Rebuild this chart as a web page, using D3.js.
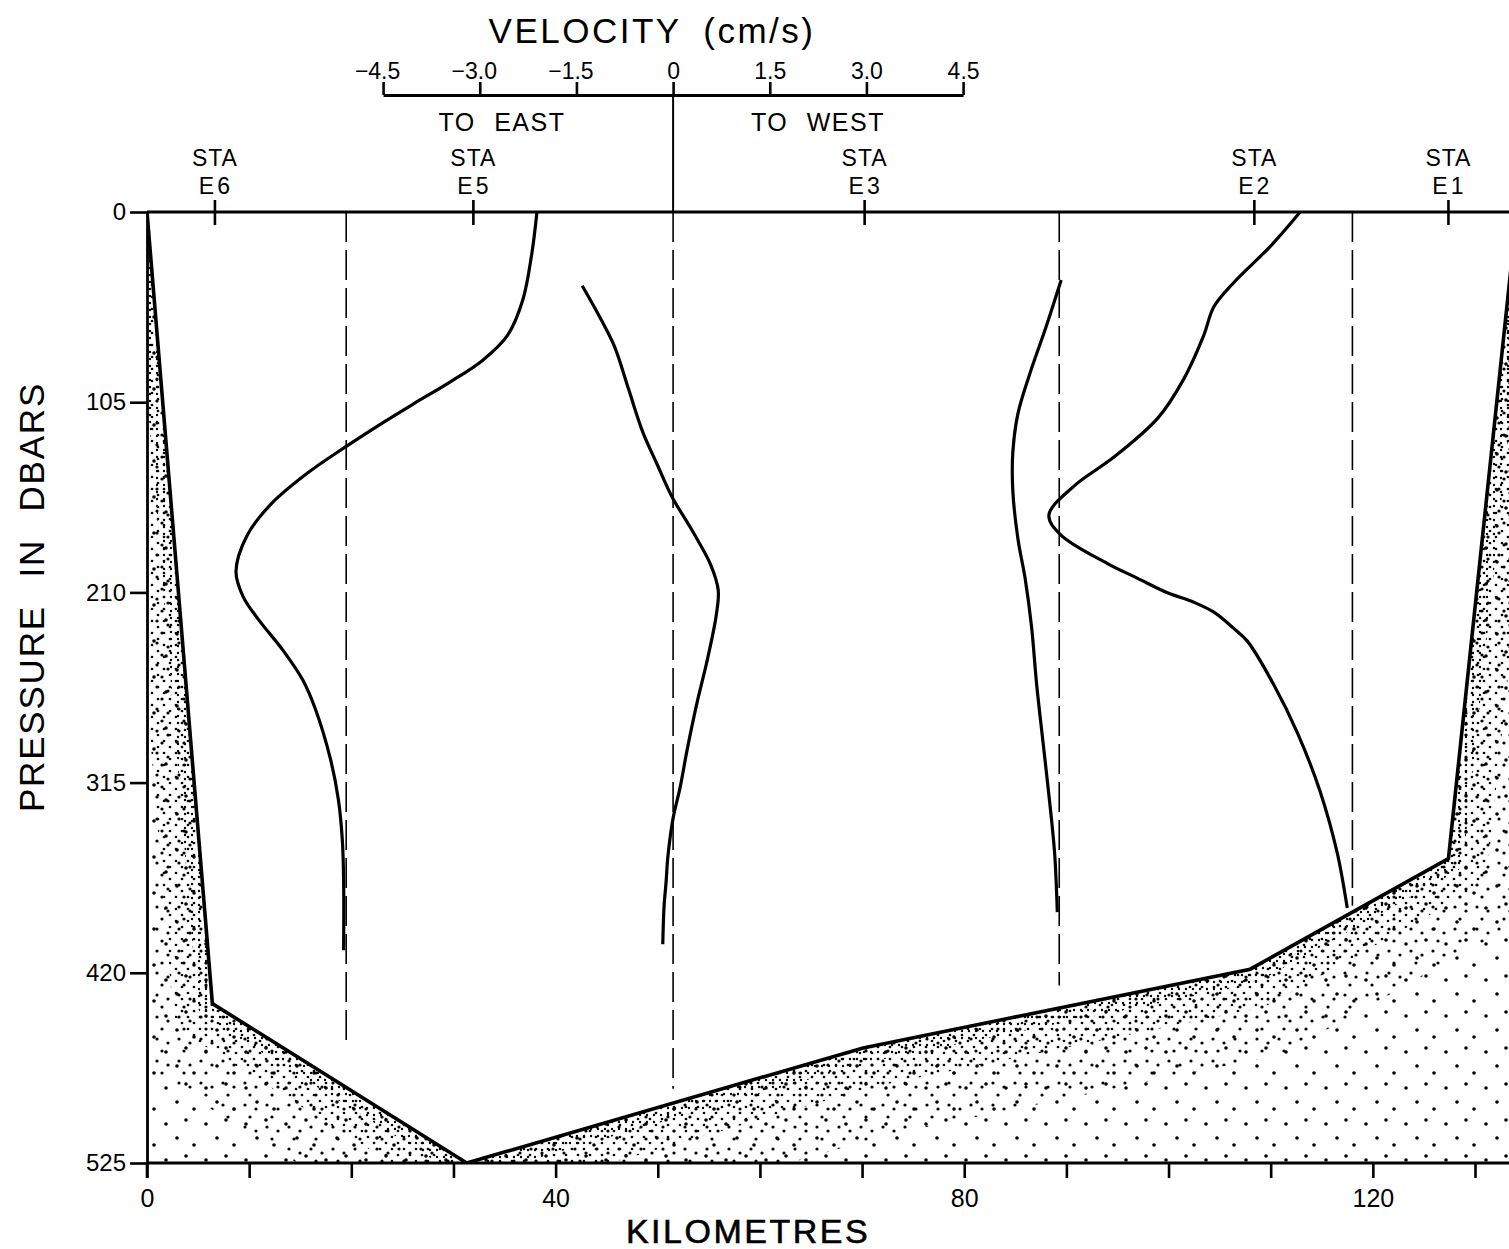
<!DOCTYPE html>
<html><head><meta charset="utf-8">
<script src="https://cdn.jsdelivr.net/npm/d3@7"></script>
<style>
html,body{margin:0;padding:0;background:#fff;}
svg text{font-family:"Liberation Sans",Arial,Helvetica,sans-serif;fill:#000;}
</style></head><body>
<svg id="chart" width="1509" height="1249"></svg>
<script>
// ---------------- data ----------------
const pressureTicks = [0, 105, 210, 315, 420, 525];
const kmTicks = [0, 10, 20, 30, 40, 50, 60, 70, 80, 90, 100, 110, 120, 130];
const kmLabels = [0, 40, 80, 120];
const velocityTicks = [-4.5, -3.0, -1.5, 0, 1.5, 3.0, 4.5];
const velocityTickLabels = ["\u22124.5", "\u22123.0", "\u22121.5", "0", "1.5", "3.0", "4.5"];

const stations = ["E6", "E5", "E3", "E2", "E1"];
const stationKm = [6.65, 31.95, 70.25, 108.4, 127.4];

// bottom topography (km, dbar)
const bottomKm = [0, 6.4, 31.3, 70.1, 108.0, 127.4, 134.1];
const bottomDbar = [0, 437, 525, 461.5, 418, 357, 0];

// velocity profiles between station pairs: reference (zero) line and profiles
const pairNames = ["E6-E5", "E5-E3", "E3-E2", "E2-E1"];
const pairRefKm = [19.5, 51.5, 89.3, 118.0];
const pairRefEndDbar = [460, 484, 427, 383];

const pA = [0, 23, 48.6, 68.3, 82.1, 93.9, 105.8, 117.6, 129.4, 144.1, 161, 178.7, 198.5, 212.3, 225, 242, 258, 273.3, 302.6, 324.7, 346.8, 368.9, 407.5];
const vA = [2.96, 2.88, 2.74, 2.50, 2.11, 1.61, 1.05, 0.51, 0.0, -0.60, -1.16, -1.54, -1.71, -1.60, -1.36, -0.98, -0.68, -0.49, -0.24, -0.12, -0.06, -0.04, -0.04];

const pB = [40.7, 58.5, 74.2, 97.9, 121.5, 139.1, 157, 176.7, 194.5, 208.7, 222.5, 247.4, 271.1, 296.5, 317.5, 334.6, 355.6, 370.5, 383.2, 404.2];
const vB = [-1.41, -1.13, -0.91, -0.69, -0.47, -0.25, -0.02, 0.31, 0.58, 0.70, 0.67, 0.53, 0.37, 0.22, 0.11, 0.0, -0.08, -0.11, -0.14, -0.16];

const pC = [37.5, 62.9, 89.7, 111.2, 132.5, 154, 180.7, 202.1, 228.9, 261, 293.2, 325.2, 354.7, 386.5];
const vC = [0.03, -0.20, -0.46, -0.64, -0.72, -0.72, -0.64, -0.53, -0.43, -0.35, -0.25, -0.15, -0.07, -0.03];

const pD = [0, 18.8, 38.9, 52.3, 68.4, 92.4, 113.8, 135.3, 151.3, 167.3, 178.1, 194.1, 202.1, 210.2, 215.3, 220.9, 229.6, 236.9, 261, 287.8, 320, 354.7, 384.2];
const vD = [-0.81, -1.27, -1.84, -2.15, -2.31, -2.62, -3.02, -3.70, -4.32, -4.71, -4.53, -3.80, -3.34, -2.87, -2.47, -2.15, -1.85, -1.63, -1.22, -0.85, -0.50, -0.23, -0.08];

const profilesP = [pA, pB, pC, pD];
const profilesV = [vA, vB, vC, vD];

// ---------------- scales ----------------
const svg = d3.select("#chart");
const x = d3.scaleLinear().domain([0, 130]).range([147, 1475]);
const y = d3.scaleLinear().domain([0, 525]).range([212, 1163]);
const VEL_HALF = 290;
const velScale = ref => d3.scaleLinear().domain([-4.5, 4.5]).range([x(ref) - VEL_HALF, x(ref) + VEL_HALF]);

// ---------------- stipple patterns ----------------
const defs = svg.append("defs");
function pattern(id, w, h, dots, r) {
  const p = defs.append("pattern").attr("id", id).attr("patternUnits", "userSpaceOnUse")
    .attr("width", w).attr("height", h);
  dots.forEach(d => p.append("circle").attr("cx", d[0]).attr("cy", d[1]).attr("r", r).attr("fill", "#000"));
}
pattern("st1", 40, 36, [[6, 8], [26, 4], [17, 22], [34, 29]], 1.8);
pattern("st2", 22, 22, [[3, 5], [14, 9], [8, 17]], 1.6);
pattern("st3", 12, 12, [[2, 3], [8, 9]], 1.35);
pattern("st4", 7, 7, [[3, 2]], 1.2);

const bottomPts = bottomKm.map((k, i) => [x(k), y(bottomDbar[i])]);
const polyPts = bottomPts.concat([[x(140), y(0)], [x(140), y(525)], [x(0), y(525)]]);
defs.append("clipPath").attr("id", "seaBed").append("polygon")
  .attr("points", polyPts.map(p => p.join(",")).join(" "));
defs.append("clipPath").attr("id", "plotArea").append("rect")
  .attr("x", x(0)).attr("y", y(0)).attr("width", 1509 - x(0)).attr("height", y(525) - y(0));

const stip = svg.append("g").attr("clip-path", "url(#seaBed)");
stip.append("polygon").attr("points", polyPts.map(p => p.join(",")).join(" ")).attr("fill", "url(#st1)");
const lineGen = d3.line();
[[180, "st2"], [80, "st3"], [30, "st4"]].forEach(([w, pid]) => {
  stip.append("path").attr("d", lineGen(bottomPts)).attr("fill", "none")
    .attr("stroke", `url(#${pid})`).attr("stroke-width", w).attr("stroke-linejoin", "round");
});

// bottom boundary line
svg.append("g").attr("clip-path", "url(#plotArea)").append("path")
  .attr("d", lineGen(bottomPts)).attr("fill", "none").attr("stroke", "#000")
  .attr("stroke-width", 3.6).attr("stroke-linejoin", "miter");

// ---------------- axes ----------------
const axisStyle = g => {
  g.selectAll("path.domain").attr("stroke", "#000").attr("stroke-width", 2.8);
  g.selectAll(".tick line").attr("stroke", "#000").attr("stroke-width", 2.6);
  g.attr("font-family", null).attr("font-size", null);
};

// left axis
const gl = svg.append("g").attr("transform", `translate(${x(0)},0)`)
  .call(d3.axisLeft(y).tickValues(pressureTicks).tickSize(17).tickSizeOuter(0).tickPadding(4).tickFormat(d3.format("d")));
axisStyle(gl);
gl.selectAll("text").style("font-size", "24px");

// bottom axis
const gb = svg.append("g").attr("transform", `translate(0,${y(525)})`)
  .call(d3.axisBottom(x).tickValues(kmTicks).tickSize(15).tickSizeOuter(0).tickPadding(11)
    .tickFormat(d => kmLabels.includes(d) ? String(d) : ""));
axisStyle(gb);
gb.select("path.domain").remove();
gb.selectAll("text").style("font-size", "25px");
svg.append("line").attr("x1", x(0)).attr("x2", 1509).attr("y1", y(525)).attr("y2", y(525))
  .attr("stroke", "#000").attr("stroke-width", 3.2);
svg.append("line").attr("x1", x(0)).attr("x2", x(0)).attr("y1", y(525)).attr("y2", y(525) + 15)
  .attr("stroke", "#000").attr("stroke-width", 2.6);

// surface line (0 dbar)
svg.append("line").attr("x1", x(0)).attr("x2", 1509).attr("y1", y(0)).attr("y2", y(0))
  .attr("stroke", "#000").attr("stroke-width", 3.2);

// station ticks and labels
const gs = svg.append("g");
stations.forEach((s, i) => {
  const sx = x(stationKm[i]);
  gs.append("line").attr("x1", sx).attr("x2", sx).attr("y1", y(0) - 12).attr("y2", y(0) + 13)
    .attr("stroke", "#000").attr("stroke-width", 2.6);
  gs.append("text").attr("x", sx).attr("y", 166).attr("text-anchor", "middle")
    .style("font-size", "23px").style("letter-spacing", "1px").text("STA");
  gs.append("text").attr("x", sx + 1).attr("y", 194).attr("text-anchor", "middle")
    .style("font-size", "23px").style("letter-spacing", "3px").text(s);
});

// velocity axis (top), centred on the E5-E3 reference line
const vTop = velScale(pairRefKm[1]);
const gv = svg.append("g").attr("transform", "translate(0,95)")
  .call(d3.axisTop(vTop).tickValues(velocityTicks).tickSize(13).tickSizeOuter(0).tickPadding(3)
    .tickFormat((d, i) => velocityTickLabels[i]));
axisStyle(gv);
gv.selectAll("text").style("font-size", "23px")
  .attr("dx", (d, i) => velocityTickLabels[i].startsWith("\u2212") ? -6 : 0);
svg.append("line").attr("x1", vTop(0)).attr("x2", vTop(0)).attr("y1", 95).attr("y2", y(0))
  .attr("stroke", "#000").attr("stroke-width", 2);

svg.append("text").attr("x", 652).attr("y", 43).attr("text-anchor", "middle")
  .style("font-size", "35px").style("letter-spacing", "2.5px").style("word-spacing", "10px")
  .text("VELOCITY (cm/s)");
svg.append("text").attr("x", 502).attr("y", 131).attr("text-anchor", "middle")
  .style("font-size", "25px").style("letter-spacing", "1.5px").style("word-spacing", "10px").text("TO EAST");
svg.append("text").attr("x", 818).attr("y", 131).attr("text-anchor", "middle")
  .style("font-size", "25px").style("letter-spacing", "1.5px").style("word-spacing", "10px").text("TO WEST");

// axis titles
svg.append("text").attr("transform", "translate(44,597) rotate(-90)").attr("text-anchor", "middle")
  .style("font-size", "35px").style("letter-spacing", "1.8px").style("word-spacing", "16px")
  .text("PRESSURE IN DBARS");
svg.append("text").attr("x", 748).attr("y", 1243).attr("text-anchor", "middle")
  .style("font-size", "34px").style("letter-spacing", "2.5px").style("stroke", "#000").style("stroke-width", "0.6px")
  .text("KILOMETRES");

// ---------------- reference lines and velocity profiles ----------------
const gp = svg.append("g");
pairRefKm.forEach((ref, i) => {
  gp.append("line").attr("x1", x(ref)).attr("x2", x(ref)).attr("y1", y(0)).attr("y2", y(pairRefEndDbar[i]))
    .attr("stroke", "#000").attr("stroke-width", 1.6).attr("stroke-dasharray", "30,8");
  const vs = velScale(ref);
  const pts = profilesP[i].map((p, j) => ({ p: p, v: profilesV[i][j] }));
  gp.append("path").datum(pts)
    .attr("d", d3.line().x(d => vs(d.v)).y(d => y(d.p)).curve(d3.curveCatmullRom.alpha(0.5)))
    .attr("fill", "none").attr("stroke", "#000").attr("stroke-width", 3.2).attr("stroke-linecap", "butt");
});
</script>
</body></html>
